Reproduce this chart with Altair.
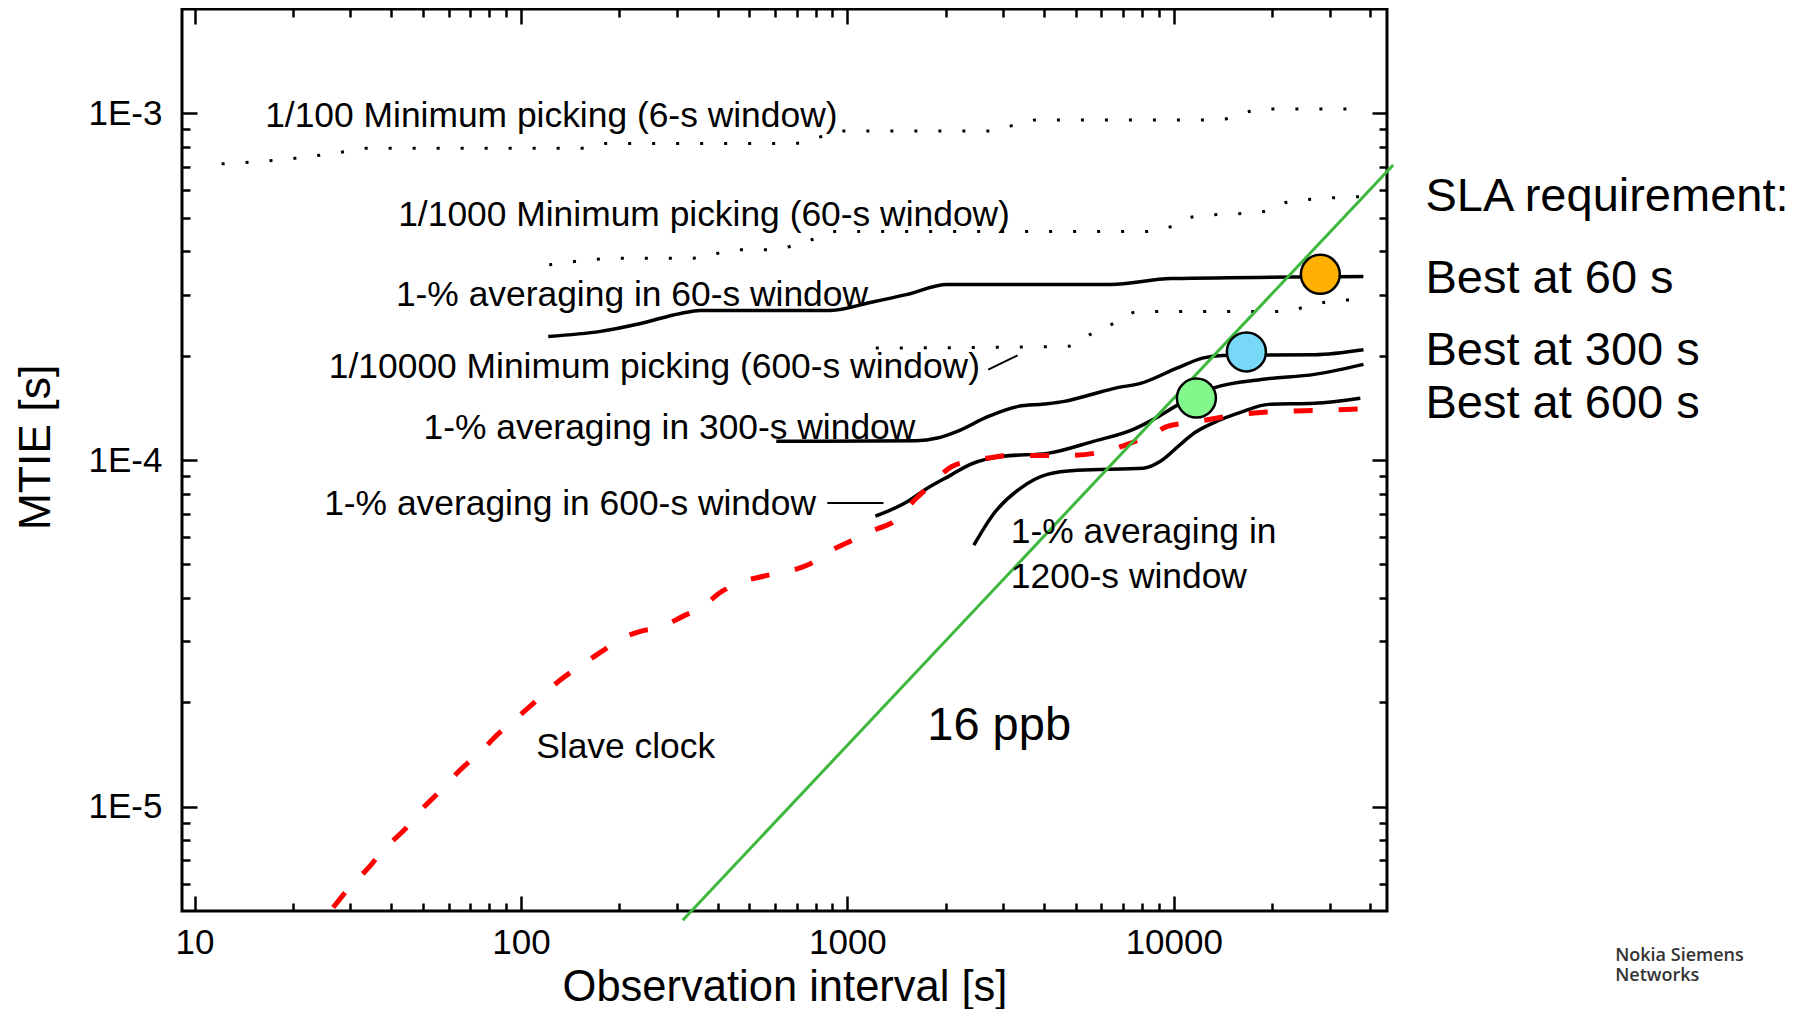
import math
import altair as alt
import pandas as pd

# ---------------- axis ticks / labels ----------------
x_major = [10, 100, 1000, 10000]
x_major_labels = ["10", "100", "1000", "10000"]
x_minor = [20, 30, 40, 50, 60, 70, 80, 90,
           200, 300, 400, 500, 600, 700, 800, 900,
           2000, 3000, 4000, 5000, 6000, 7000, 8000, 9000,
           20000, 30000, 40000]
y_major = [1e-5, 1e-4, 1e-3]
y_major_labels = ["1E-5", "1E-4", "1E-3"]
y_minor = [6e-6, 7e-6, 8e-6, 9e-6,
           2e-5, 3e-5, 4e-5, 5e-5, 6e-5, 7e-5, 8e-5, 9e-5,
           2e-4, 3e-4, 4e-4, 5e-4, 6e-4, 7e-4, 8e-4, 9e-4]

# ---------------- curves ----------------
min100_x = [12.1, 20.3, 28.7, 33.5, 151.9, 181, 687, 985, 2704, 3793, 13610, 18840, 37330]
min100_y = [7.15e-4, 7.42e-4, 7.75e-4, 7.93e-4, 7.93e-4, 8.19e-4, 8.19e-4, 8.9e-4, 8.9e-4,
            9.57e-4, 9.57e-4, 1.03e-3, 1.03e-3]

min1000_x = [122, 201.4, 334.7, 463, 572, 780, 918, 8240, 9833, 11560, 18830, 22630, 37380]
min1000_y = [3.656e-4, 3.82e-4, 3.82e-4, 4.04e-4, 4.04e-4, 4.325e-4, 4.56e-4, 4.56e-4,
             4.715e-4, 5.04e-4, 5.21e-4, 5.565e-4, 5.75e-4]

min10000_x = [1222, 4720, 5550, 6530, 7790, 21780, 25590, 30110, 36010]
min10000_y = [2.103e-4, 2.127e-4, 2.303e-4, 2.476e-4, 2.682e-4, 2.682e-4, 2.773e-4, 2.867e-4, 2.899e-4]

avg60_x = [121.2, 175.3, 232.4, 308.2, 354, 886.5, 1175, 1515, 2023, 6390, 9826, 38090]
avg60_y = [2.273e-4, 2.35e-4, 2.477e-4, 2.647e-4, 2.70e-4, 2.70e-4, 2.848e-4, 3.0e-4,
           3.208e-4, 3.208e-4, 3.338e-4, 3.383e-4]

avg300_x = [605.5, 1626, 1886, 2172, 2703, 3340, 4012, 4620, 5552, 6622, 7957, 10220,
            12240, 14090, 26980, 38120]
avg300_y = [1.132e-4, 1.137e-4, 1.157e-4, 1.21e-4, 1.336e-4, 1.428e-4, 1.45e-4, 1.476e-4,
            1.543e-4, 1.612e-4, 1.667e-4, 1.841e-4, 1.968e-4, 2.003e-4, 2.012e-4, 2.08e-4]

avg600_x = [1218, 1515, 1757, 2068, 2381, 3005, 4099, 5672, 7520, 8663, 10480, 13130,
            18820, 26980, 38120]
avg600_y = [6.884e-5, 7.55e-5, 8.287e-5, 9.03e-5, 9.718e-5, 1.025e-4, 1.045e-4, 1.132e-4,
            1.226e-4, 1.31e-4, 1.457e-4, 1.609e-4, 1.709e-4, 1.766e-4, 1.887e-4]

avg1200_x = [2440, 2800, 3388, 4099, 5064, 8072, 9099, 10480, 11400, 13130, 16340, 19490,
             26980, 37290]
avg1200_y = [5.68e-5, 6.975e-5, 8.287e-5, 9.09e-5, 9.34e-5, 9.465e-5, 9.91e-5, 1.11e-4,
             1.186e-4, 1.276e-4, 1.381e-4, 1.447e-4, 1.457e-4, 1.506e-4]

slave_x = [26.58, 29.54, 34.5, 37.8, 44.5, 48.8, 57.4, 64.2, 76.0, 85.1, 100.1, 112.9,
           131.9, 149.7, 177.4, 198.6, 233.6, 269, 314, 354.1, 413.6, 463, 552.4, 697.2,
           764.1, 918.2, 1020.7, 1226, 1363, 1626, 1757, 2096, 2330, 2800, 3112, 4786,
           6390, 7205, 8598, 9556, 11400, 15990, 21210, 28120, 39470]
slave_y = [5.115e-6, 5.79e-6, 6.745e-6, 7.50e-6, 8.68e-6, 9.65e-6, 1.125e-5, 1.259e-5,
           1.457e-5, 1.62e-5, 1.85e-5, 2.043e-5, 2.318e-5, 2.527e-5, 2.81e-5, 3.022e-5,
           3.21e-5, 3.295e-5, 3.545e-5, 3.738e-5, 4.183e-5, 4.411e-5, 4.62e-5, 4.842e-5,
           5.005e-5, 5.565e-5, 5.83e-5, 6.315e-5, 6.571e-5, 7.757e-5, 8.287e-5, 9.59e-5,
           9.91e-5, 1.018e-4, 1.031e-4, 1.031e-4, 1.07e-4, 1.11e-4, 1.186e-4, 1.251e-4,
           1.284e-4, 1.354e-4, 1.381e-4, 1.39e-4, 1.409e-4]

ppb_x = [313, 47000]
ppb_y = [4.7e-6, 7.1e-4]

leader1_x = [2700, 3323]
leader1_y = [1.822e-4, 2.003e-4]
leader2_x = [867.8, 1290]
leader2_y = [7.52e-5, 7.52e-5]

circle_names = ["Best at 60 s", "Best at 300 s", "Best at 600 s"]
circle_x = [28120, 16690, 11730]
circle_y = [3.433e-4, 2.05e-4, 1.509e-4]
circle_colors = ["#FFB000", "#78D8F8", "#80F88C"]

# ---------------- annotations ----------------
ann_text = ["1/100 Minimum picking (6-s window)", "1/1000 Minimum picking (60-s window)",
            "1-% averaging in 60-s window", "1/10000 Minimum picking (600-s window)",
            "1-% averaging in 300-s window", "1-% averaging in 600-s window",
            "1-% averaging in", "1200-s window", "Slave clock"]
ann_x = [16.45, 42.05, 41.37, 25.78, 50.28, 24.94, 3168, 3168, 111.3]
ann_y = [9.93e-4, 5.164e-4, 3.037e-4, 1.883e-4, 1.257e-4, 7.58e-5, 6.30e-5, 4.674e-5, 1.504e-5]

ppb_text = ["16 ppb"]
ppb_tx = [1757]
ppb_ty = [1.737e-5]

sla_text = ["SLA requirement:", "Best at 60 s", "Best at 300 s", "Best at 600 s"]
sla_x = [59000, 59000, 59000, 59000]
sla_y = [5.868e-4, 3.395e-4, 2.099e-4, 1.476e-4]

logo_text = ["Nokia Siemens", "Networks"]
logo_x = [225100, 225100]
logo_y = [3.71e-6, 3.24e-6]

# ---------------- tables ----------------
def table(pairs):
    rows = []
    for name, xs_, ys_ in pairs:
        for i, (a, b) in enumerate(zip(xs_, ys_)):
            rows.append({"series": name, "x": a, "y": b, "i": i})
    return pd.DataFrame(rows)

dotted_df = table([("min100", min100_x, min100_y), ("min1000", min1000_x, min1000_y),
                   ("min10000", min10000_x, min10000_y)])
solid_df = table([("avg60", avg60_x, avg60_y), ("avg300", avg300_x, avg300_y),
                  ("avg600", avg600_x, avg600_y), ("avg1200", avg1200_x, avg1200_y)])
leader_df = table([("l1", leader1_x, leader1_y), ("l2", leader2_x, leader2_y)])
slave_df = table([("slave", slave_x, slave_y)])
ppb_df = table([("ppb", ppb_x, ppb_y)])
circ_df = pd.DataFrame({"name": circle_names, "x": circle_x, "y": circle_y})
ann_df = pd.DataFrame({"t": ann_text, "x": ann_x, "y": ann_y})
ppbt_df = pd.DataFrame({"t": ppb_text, "x": ppb_tx, "y": ppb_ty})
sla_df = pd.DataFrame({"t": sla_text, "x": sla_x, "y": sla_y})
logo_df = pd.DataFrame({"t": logo_text, "x": logo_x, "y": logo_y})

# ---------------- scales / axes ----------------
W, H = 1205, 902
FONT = "Liberation Sans"
xs = alt.Scale(type="log", domain=[9.15, 45000], nice=False)
ys = alt.Scale(type="log", domain=[5e-6, 2e-3], nice=False)


def label_expr(values, labels):
    expr = "''"
    for v, lab in zip(reversed(values), reversed(labels)):
        expr = f"abs(log(datum.value)/LN10 - ({math.log10(v):.4f})) < 0.01 ? '{lab}' : ({expr})"
    return expr


x_label_axis = alt.Axis(orient="bottom", values=x_major, labelExpr=label_expr(x_major, x_major_labels),
                        ticks=False, tickSize=0, domain=False, grid=False, labelPadding=14,
                        labelFontSize=35, labelFont=FONT, labelColor="black", labelFlush=False,
                        labelOverlap=False, title="Observation interval [s]", titleFontSize=43.5,
                        titleFont=FONT, titleFontWeight="normal", titleColor="black",
                        titleY=89, titleBaseline="alphabetic")
y_label_axis = alt.Axis(orient="left", values=y_major, labelExpr=label_expr(y_major, y_major_labels),
                        ticks=False, tickSize=0, domain=False, grid=False, labelPadding=20,
                        labelFontSize=35, labelFont=FONT, labelColor="black", labelFlush=False,
                        labelOverlap=False, title="MTIE [s]", titleFontSize=44.5, titleFont=FONT,
                        titleFontWeight="normal", titleColor="black", titleAngle=270,
                        titleX=-133, titleY=438, titleBaseline="alphabetic", titleAlign="center")


def tick_axis(orient, offset, values, size):
    return alt.Axis(orient=orient, offset=offset, values=values, labels=False, domain=False,
                    grid=False, ticks=True, tickSize=size, tickWidth=2.5, tickColor="black",
                    title="")


def tick_layer(xo, yo, xv, yv, size):
    return alt.Chart(circ_df).mark_point(opacity=0).encode(
        x=alt.X("x:Q", scale=xs, axis=tick_axis(xo, -H, xv, size)),
        y=alt.Y("y:Q", scale=ys, axis=tick_axis(yo, -W, yv, size)),
    )


ticks = [
    tick_layer("top", "right", x_major, y_major, 15),     # bottom & left inner ticks
    tick_layer("bottom", "left", x_major, y_major, 15),   # top & right inner ticks
    tick_layer("top", "right", x_minor, y_minor, 8),
    tick_layer("bottom", "left", x_minor, y_minor, 8),
]

X0 = alt.X("x:Q", scale=xs, axis=None)
Y0 = alt.Y("y:Q", scale=ys, axis=None)

solid = alt.Chart(solid_df).mark_line(color="black", strokeWidth=3.5, interpolate="monotone").encode(
    x=alt.X("x:Q", scale=xs, axis=x_label_axis),
    y=alt.Y("y:Q", scale=ys, axis=y_label_axis),
    detail="series:N", order="i:Q")
dotted = alt.Chart(dotted_df).mark_line(color="black", strokeWidth=3, strokeDash=[3, 21],
                                        interpolate="monotone").encode(
    x=X0, y=Y0, detail="series:N", order="i:Q")
leaders = alt.Chart(leader_df).mark_line(color="black", strokeWidth=2).encode(
    x=X0, y=Y0, detail="series:N", order="i:Q")
slave = alt.Chart(slave_df).mark_line(color="#FF0000", strokeWidth=5, strokeDash=[19, 26],
                                      interpolate="monotone").encode(x=X0, y=Y0, order="i:Q")
ppb = alt.Chart(ppb_df).mark_line(color="#3DB83D", strokeWidth=3).encode(x=X0, y=Y0, order="i:Q")

ann = alt.Chart(ann_df).mark_text(font=FONT, fontSize=35.4, align="left", baseline="middle", dy=2,
                                  color="black").encode(x=X0, y=Y0, text="t:N")
ppbt = alt.Chart(ppbt_df).mark_text(font=FONT, fontSize=47, align="left", baseline="middle", dy=2,
                                    color="black").encode(x=X0, y=Y0, text="t:N")
sla = alt.Chart(sla_df).mark_text(font=FONT, fontSize=47, align="left", baseline="middle", dy=3,
                                  color="black").encode(x=X0, y=Y0, text="t:N")
logo = alt.Chart(logo_df).mark_text(font="Open Sans", fontSize=18, fontWeight=600, align="left",
                                    baseline="middle", color="#333333").encode(x=X0, y=Y0, text="t:N")

circles = alt.Chart(circ_df).mark_circle(size=1520, opacity=1, stroke="black", strokeWidth=2.5).encode(
    x=X0, y=Y0,
    fill=alt.Fill("name:N", scale=alt.Scale(domain=circle_names, range=circle_colors), legend=None))

chart = alt.layer(*ticks, dotted, solid, leaders, slave, ppb, ann, ppbt, sla, logo, circles).resolve_axis(
    x="independent", y="independent"
).properties(
    width=W, height=H,
    padding={"left": 174, "top": 1, "right": 414, "bottom": 98},
    autosize=alt.AutoSizeParams(type="none"),
).configure(font=FONT).configure_view(stroke="black", strokeWidth=3)

chart.save("out.html", embed_options={"renderer": "svg", "actions": False})
